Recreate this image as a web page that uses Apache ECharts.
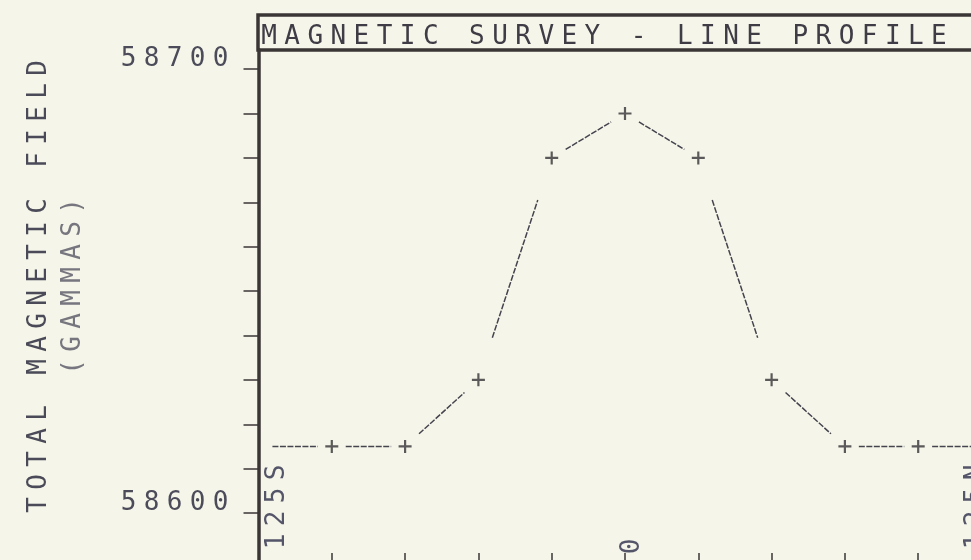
<!DOCTYPE html>
<html>
<head>
<meta charset="utf-8">
<script src="https://cdn.jsdelivr.net/npm/echarts@6/dist/echarts.min.js"></script>
<style>
  html, body { margin: 0; padding: 0; background: #f5f6e9; }
  #chart { width: 971px; height: 560px; }
</style>
</head>
<body>
<div id="chart"></div>
<script>
// Survey stations along the line (metres south / north of the base point)
const stations = ['125S', '100S', '75S', '50S', '25S', '0', '25N', '50N', '75N', '100N', '125N'];
// Total magnetic field read at each station (gammas)
const fieldValues = [58615, 58615, 58615, 58630, 58680, 58690, 58680, 58630, 58615, 58615, 58615];
// Stations that carry a printed label
const labelledStations = ['125S', '0', '125N'];
// Field axis ticks and the two printed values
const yTickValues = [58600, 58610, 58620, 58630, 58640, 58650, 58660, 58670, 58680, 58690, 58700];
const yLabelValues = [58600, 58700];
const titleText = 'MAGNETIC SURVEY - LINE PROFILE';
const yNameLine1 = 'TOTAL MAGNETIC FIELD';
const yNameLine2 = '(GAMMAS)';

const FONT = '"DejaVu Sans Mono", "Liberation Mono", monospace';
const INK = '#3b3636';
const TEXT = '#4c4b5a';
const PITCH = 23;

// Plotter lettering: every character sits in a fixed-width cell
function spaced(str, style) {
  return str.split('').map(function (c) { return '{' + style + '|' + c + '}'; }).join('');
}
function cell(color, extra) {
  return Object.assign({
    width: PITCH, align: 'center', fontFamily: FONT, fontSize: 26, lineHeight: 26,
    fontWeight: 'normal', color: color
  }, extra || {});
}

// Consecutive station pairs; each segment is drawn trimmed at both ends
const segments = [];
for (let i = 0; i < fieldValues.length - 1; i++) {
  segments.push([i, fieldValues[i], i + 1, fieldValues[i + 1]]);
}

const chart = echarts.init(document.getElementById('chart'), null, { renderer: 'canvas' });

chart.setOption({
  backgroundColor: '#f5f6e9',
  animation: false,
  textStyle: { fontFamily: FONT },
  title: {
    text: spaced(titleText, 't'),
    left: 257.5,
    top: 24,
    padding: 0,
    textStyle: { fontWeight: 'normal', rich: { t: cell('#403c46', { width: 23.1 }) } }
  },
  graphic: [{
    type: 'rect',
    shape: { x: 258, y: 15, width: 760, height: 35 },
    style: { fill: 'none', stroke: INK, lineWidth: 3.5 },
    silent: true
  }],
  grid: {
    left: 258.5, top: 50, width: 733, height: 515,
    containLabel: false,
    outerBoundsMode: 'none'
  },
  xAxis: {
    type: 'category',
    data: stations,
    boundaryGap: false,
    axisLine: { show: true, lineStyle: { color: INK, width: 3.5 } },
    axisTick: { show: true, inside: true, length: 12, interval: 0, lineStyle: { color: INK, width: 1.5 } },
    splitLine: { show: false },
    axisLabel: {
      inside: true,
      rotate: 90,
      margin: 7,
      interval: function (index, value) { return labelledStations.indexOf(value) >= 0; },
      formatter: function (value, index) {
        if (index === 0) return '{sp| }' + spaced(value, 'ls');
        if (index === stations.length - 1) return '{sp| }' + spaced(value, 'ln');
        return spaced(value, 'lz');
      },
      rich: {
        sp: { width: 5, fontSize: 26, lineHeight: 26, fontFamily: FONT },
        ls: cell('#55556a', { padding: [38, 0, 0, 0] }),
        lz: cell('#55556a', { padding: [14, 0, 0, 0] }),
        ln: cell('#55556a', { padding: [0, 0, 31, 0] })
      }
    }
  },
  yAxis: {
    type: 'value',
    min: 58588.3,
    max: 58704.3,
    name: spaced(yNameLine1, 'a') + '\n' + spaced(yNameLine2, 'b'),
    nameLocation: 'middle',
    nameRotate: 90,
    nameGap: 168,
    nameTextStyle: {
      padding: [0, 0, 0, 42],
      rich: {
        a: cell('#4a4a58', { lineHeight: 34 }),
        b: cell('#77767f', { lineHeight: 34 })
      }
    },
    splitLine: { show: false },
    axisLine: { show: true, lineStyle: { color: INK, width: 3.5 } },
    axisTick: { show: true, length: 15, customValues: yTickValues, lineStyle: { color: INK, width: 1.5 } },
    axisLabel: {
      customValues: yLabelValues,
      margin: 26.5,
      padding: [0, 0, 20, 0],
      formatter: function (v) { return spaced(String(v), 'y'); },
      rich: { y: cell(TEXT) }
    }
  },
  series: [
    {
      name: 'profile',
      type: 'custom',
      silent: true,
      encode: { x: 0, y: 1 },
      data: segments,
      renderItem: function (params, api) {
        const a = api.coord([api.value(0), api.value(1)]);
        const b = api.coord([api.value(2), api.value(3)]);
        const t = 0.19;
        return {
          type: 'line',
          shape: {
            x1: a[0] + (b[0] - a[0]) * t, y1: a[1] + (b[1] - a[1]) * t,
            x2: b[0] - (b[0] - a[0]) * t, y2: b[1] - (b[1] - a[1]) * t
          },
          style: { stroke: '#45434e', lineWidth: 1.5, lineDash: [6, 1.5] }
        };
      }
    },
    {
      name: 'stations',
      type: 'scatter',
      silent: true,
      symbol: 'path://M6,0L6,12M0,6L12,6',
      symbolSize: 13,
      itemStyle: { color: 'transparent', borderColor: '#353234', borderWidth: 2.2 },
      data: fieldValues.map(function (v, i) {
        return i === 0 ? { value: v, symbol: 'none' } : v;
      })
    }
  ]
});
</script>
</body>
</html>
